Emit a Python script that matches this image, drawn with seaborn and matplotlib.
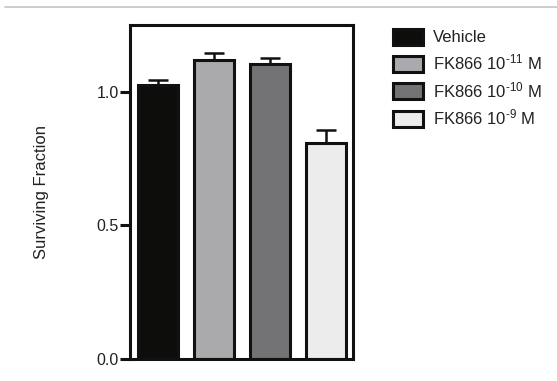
import matplotlib
matplotlib.use("Agg")
import matplotlib.pyplot as plt
from matplotlib.patches import Patch
from matplotlib.lines import Line2D
import seaborn as sns
import pandas as pd

groups = ["Vehicle", r"FK866 10$^{\text{-11}}$ M", r"FK866 10$^{\text{-10}}$ M",
          r"FK866 10$^{\text{-9}}$ M"]
surviving = [1.025, 1.119, 1.105, 0.81]
sem = [0.021, 0.028, 0.020, 0.047]
colors = ["#0d0d0b", "#a9aaae", "#737375", "#ececec"]
y_ticks = [0.0, 0.5, 1.0]

sns.set_theme(style="white")
plt.rcParams["font.family"] = ["Liberation Sans", "DejaVu Sans"]
plt.rcParams["mathtext.fontset"] = "custom"
plt.rcParams["mathtext.rm"] = "Liberation Sans"
plt.rcParams["mathtext.it"] = "Liberation Sans"

df = pd.DataFrame({"group": groups, "value": surviving})

fig = plt.figure(figsize=(5.57, 3.81), dpi=100)
ax = fig.add_axes([130 / 557, 1 - 359 / 381, 223 / 557, 334 / 381])

sns.barplot(data=df, x="group", y="value", hue="group", palette=colors,
            order=groups, hue_order=groups, width=0.71, dodge=False,
            edgecolor="#111111", linewidth=2.2, legend=False, ax=ax)

# one-sided (upper) error bars
ax.errorbar(range(len(groups)), surviving, yerr=[[0] * len(sem), sem],
            fmt="none", ecolor="#111111", elinewidth=1.8, capsize=7.5,
            capthick=1.8, zorder=1)

ax.set_xlim(-0.5, 3.48)
ax.set_ylim(0, 1.25)
ax.set_yticks(y_ticks)
ax.set_yticklabels([f"{t:.1f}" for t in y_ticks], fontsize=11.5, color="#222222")
ax.set_xticks([])
ax.set_xlabel("")
ax.set_ylabel("Surviving Fraction", fontsize=12, color="#222222", labelpad=34)
ax.tick_params(axis="y", left=True, length=7, width=2.2, color="#111111", pad=1)
for s in ax.spines.values():
    s.set_visible(True)
    s.set_linewidth(2.2)
    s.set_color("#111111")

handles = [Patch(facecolor=c, edgecolor="#111111", linewidth=2.2) for c in colors]
fig.legend(handles, groups, loc="upper left", bbox_to_anchor=(386 / 557, 1 - 22 / 381),
           frameon=False, fontsize=12, handlelength=1.8, handleheight=1.1,
           handletextpad=0.6, labelspacing=0.45, borderaxespad=0,
           labelcolor="#222222")

fig.add_artist(Line2D([5 / 557, 1], [1 - 7 / 381, 1 - 7 / 381],
                      color="#c4c4c4", linewidth=1.2))

fig.savefig("out.png", dpi=100)
